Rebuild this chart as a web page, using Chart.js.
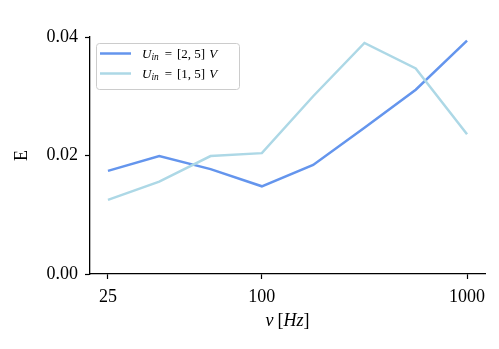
<!DOCTYPE html>
<html>
<head>
<meta charset="utf-8">
<script src="https://cdn.jsdelivr.net/npm/chart.js@4"></script>
<style>
  html, body { margin: 0; padding: 0; background: #fff; }
  canvas { display: block; }
</style>
</head>
<body>
<canvas id="chart" width="499" height="349"></canvas>
<script>
// frequencies of the measurements (plotted evenly spaced)
const frequencies = [25, 50, 75, 100, 250, 500, 750, 1000];
const tickFrequencies = [25, 100, 1000];
const yTicks = [0, 0.02, 0.04];

// input voltage ranges for each series
const voltageRanges = [[2, 5], [1, 5]];
const errorU25 = [0.0174, 0.0199, 0.0177, 0.0148, 0.0184, 0.0247, 0.0311, 0.0394];
const errorU15 = [0.0125, 0.0156, 0.0199, 0.0204, 0.0300, 0.0390, 0.0347, 0.0236];
const colors = ["#6495ED", "#ADD8E6"];

const serif = "'Liberation Serif', 'DejaVu Serif', serif";

// draws a small math-like string: parts with italic / subscript / gap
function drawMath(ctx, parts, x, y, size) {
    parts.forEach(p => {
        x += p.gap || 0;
        const s = p.sub ? size * 0.72 : size;
        ctx.font = (p.it ? "italic " : "") + s + "px " + serif;
        ctx.fillText(p.t, x, p.sub ? y + size * 0.22 : y);
        x += ctx.measureText(p.t).width;
    });
    return x;
}

function mathWidth(ctx, parts, size) {
    let w = 0;
    parts.forEach(p => {
        const s = p.sub ? size * 0.72 : size;
        ctx.font = (p.it ? "italic " : "") + s + "px " + serif;
        w += (p.gap || 0) + ctx.measureText(p.t).width;
    });
    return w;
}

function legendParts(range) {
    return [
        { t: "U", it: true },
        { t: "in", it: true, sub: true },
        { t: "=", gap: 6 },
        { t: "[" + range[0] + ", " + range[1] + "]", gap: 5 },
        { t: "V", it: true, gap: 4 }
    ];
}

const labelsPlugin = {
    id: "labels",
    afterDraw(chart) {
        const ctx = chart.ctx;
        const area = chart.chartArea;
        ctx.save();
        ctx.fillStyle = "#000";
        ctx.textBaseline = "alphabetic";
        ctx.textAlign = "left";

        // x axis title
        const xParts = [
            { t: "\u03bd", it: true },
            { t: "[", gap: 4 },
            { t: "Hz", it: true },
            { t: "]" }
        ];
        const w = mathWidth(ctx, xParts, 18);
        drawMath(ctx, xParts, (area.left + area.right) / 2 - w / 2, 326, 18);

        // y axis title
        ctx.translate(27, (area.top + area.bottom) / 2);
        ctx.rotate(-Math.PI / 2);
        ctx.font = "18px " + serif;
        ctx.textAlign = "center";
        ctx.fillText("E", 0, 0);
        ctx.restore();

        // legend box
        ctx.save();
        const bx = 96, by = 43, bw = 143, bh = 46;
        ctx.beginPath();
        ctx.roundRect(bx + 0.5, by + 0.5, bw, bh, 3);
        ctx.fillStyle = "rgba(255,255,255,0.8)";
        ctx.fill();
        ctx.strokeStyle = "#cccccc";
        ctx.lineWidth = 1;
        ctx.stroke();
        chart.data.datasets.forEach((ds, i) => {
            const ly = 53.5 + i * 20;
            ctx.beginPath();
            ctx.moveTo(100, ly);
            ctx.lineTo(131, ly);
            ctx.strokeStyle = ds.borderColor;
            ctx.lineWidth = 2.5;
            ctx.stroke();
            ctx.fillStyle = "#000";
            drawMath(ctx, legendParts(voltageRanges[i]), 142, ly + 4, 13);
        });
        ctx.restore();
    }
};

const ctx = document.getElementById("chart").getContext("2d");
new Chart(ctx, {
    type: "line",
    data: {
        datasets: [
            {
                label: "U_in = [2, 5] V",
                data: errorU25.map((v, i) => ({ x: i, y: v })),
                borderColor: colors[0],
                borderWidth: 2.5,
                pointRadius: 0,
                tension: 0,
                order: 1
            },
            {
                label: "U_in = [1, 5] V",
                data: errorU15.map((v, i) => ({ x: i, y: v })),
                borderColor: colors[1],
                borderWidth: 2.5,
                pointRadius: 0,
                tension: 0,
                order: 0
            }
        ]
    },
    options: {
        responsive: false,
        animation: false,
        devicePixelRatio: 1,
        layout: { padding: { top: 37, right: 14, left: 0, bottom: 0 } },
        plugins: {
            legend: { display: false },
            tooltip: { enabled: false }
        },
        scales: {
            x: {
                type: "linear",
                min: -0.35,
                max: frequencies.length - 1 + 0.35,
                afterBuildTicks: scale => {
                    scale.ticks = tickFrequencies.map(f => ({ value: frequencies.indexOf(f) }));
                },
                afterFit: scale => { scale.height = 75; },
                ticks: {
                    color: "#000",
                    font: { family: serif, size: 18 },
                    padding: 7,
                    maxRotation: 0,
                    callback: v => String(frequencies[v])
                },
                grid: { drawOnChartArea: false, tickLength: 5, tickColor: "#000", tickWidth: 1.2 },
                border: { color: "#000", width: 1.3 }
            },
            y: {
                min: 0,
                max: 0.04,
                afterBuildTicks: scale => {
                    scale.ticks = yTicks.map(v => ({ value: v }));
                },
                afterFit: scale => { scale.width = 90; },
                ticks: {
                    color: "#000",
                    font: { family: serif, size: 18 },
                    padding: 7,
                    callback: v => v.toFixed(2)
                },
                grid: { drawOnChartArea: false, tickLength: 5, tickColor: "#000", tickWidth: 1.2 },
                border: { color: "#000", width: 1.3 }
            }
        }
    },
    plugins: [labelsPlugin]
});
</script>
</body>
</html>
